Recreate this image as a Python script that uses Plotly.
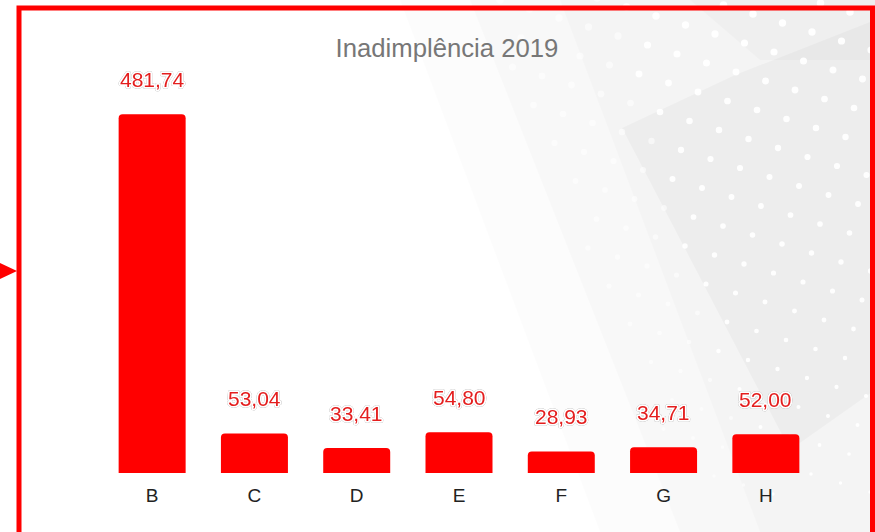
import plotly.graph_objects as go

# ---- data ----
categories = ["B", "C", "D", "E", "F", "G", "H"]
values = [481.74, 53.04, 33.41, 54.80, 28.93, 34.71, 52.00]
value_labels = ["481,74", "53,04", "33,41", "54,80", "28,93", "34,71", "52,00"]
title_text = "Inadimplência 2019"

# ---- layout geometry (pixels) ----
W, H = 875, 532
L, R, T, B = 101, 58, 70, 59
PW, PH = W - L - R, H - T - B


def px(x):
    return (x - L) / PW


def py(y):
    return (H - B - y) / PH


def poly(points):
    return "M " + " L ".join(f"{px(x):.5f},{py(y):.5f}" for x, y in points) + " Z"


shapes = []
# background grey washes (subtle)
bg_polys = [
    ([(400, 0), (875, 0), (875, 532), (600, 532)], "rgba(0,0,0,0.012)"),
    ([(470, 0), (875, 0), (875, 532), (680, 532)], "rgba(0,0,0,0.014)"),
    ([(560, 0), (875, 0), (875, 532), (760, 532)], "rgba(0,0,0,0.014)"),
    ([(622, 128), (735, 75), (875, 20), (875, 390), (790, 450)], "rgba(0,0,0,0.028)"),
    ([(690, 0), (875, 0), (875, 60), (760, 60)], "rgba(0,0,0,0.020)"),
]
for pts, col in bg_polys:
    shapes.append(dict(type="path", path=poly(pts), xref="paper", yref="paper",
                       fillcolor=col, line=dict(width=0), layer="below"))

# decorative white dots on a tilted lattice
ox, oy = 715, 34
ax_, ay_ = 29.5, 9.0
bx_, by_ = -8.5, 29.0
for i in range(-25, 12):
    for j in range(-3, 20):
        x = ox + i * ax_ + j * bx_
        y = oy + i * ay_ + j * by_
        if y < -4 or y > 500 or x > 880:
            continue
        if x < 480 + 0.42 * y:
            continue
        r = 3.8 - 2.3 * (y / 532)
        op = 0.95 if x > 610 + 0.3 * y else 0.55
        shapes.append(dict(type="circle", xref="paper", yref="paper",
                           x0=px(x - r), x1=px(x + r), y0=py(y + r), y1=py(y - r),
                           fillcolor=f"rgba(255,255,255,{op})", line=dict(width=0),
                           layer="below"))

# red frame
shapes.append(dict(type="rect", xref="paper", yref="paper",
                   x0=px(19), x1=px(872.5), y0=py(545), y1=py(8),
                   line=dict(color="#ff0000", width=5), fillcolor="rgba(0,0,0,0)",
                   layer="above"))
# arrow on left edge
shapes.append(dict(type="path", xref="paper", yref="paper",
                   path=poly([(-2, 262), (17, 271), (-2, 280)]),
                   fillcolor="#ff0000", line=dict(width=0), layer="above"))

fig = go.Figure()
fig.add_trace(go.Bar(
    x=categories, y=values,
    marker=dict(color="#ff0000", line=dict(width=0), cornerradius=4),
    hoverinfo="skip",
))

LABEL_FONT = "Liberation Sans, Arial, sans-serif"
annotations = []
for c, v, lab in zip(categories, values, value_labels):
    annotations.append(dict(
        x=c, y=v, xref="x", yref="y", text=lab, showarrow=False,
        yanchor="middle", yshift=35,
        font=dict(family=LABEL_FONT, size=21, color="#e41e1e"),
    ))

fig.update_layout(
    width=W, height=H,
    margin=dict(l=L, r=R, t=T, b=B, pad=0),
    paper_bgcolor="#ffffff",
    plot_bgcolor="rgba(0,0,0,0)",
    showlegend=False,
    bargap=0.345,
    hovermode=False,
    title=dict(text=title_text, x=447 / W, xanchor="center", xref="container",
               y=1 - 48 / H, yanchor="middle", yref="container",
               font=dict(family="Liberation Sans, Arial, sans-serif", size=25.7,
                         color="#777777")),
    xaxis=dict(type="category", showgrid=False, showline=False, zeroline=False,
               ticks="outside", ticklen=5, tickcolor="rgba(0,0,0,0)",
               tickfont=dict(family="Liberation Sans, Arial, sans-serif", size=19,
                             color="#222222")),
    yaxis=dict(visible=False, range=[0, 541], showgrid=False, zeroline=False),
    shapes=shapes,
    annotations=annotations,
)

post = """
document.body.style.margin='0';document.body.style.padding='0';
document.querySelectorAll('text.annotation-text').forEach(function(t){
  t.style.paintOrder='stroke fill';
  t.style.stroke='#ffffff';
  t.style.strokeWidth='3.5px';
  t.style.strokeLinejoin='round';
  t.style.filter='drop-shadow(0px 0px 0.7px rgba(120,120,120,0.9))';
});
"""
fig.write_html("out.html", config={"displayModeBar": False}, post_script=post)
